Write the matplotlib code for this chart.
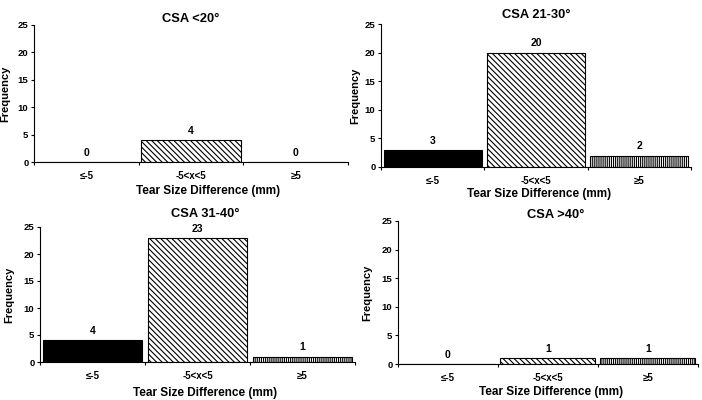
import matplotlib
matplotlib.use('Agg')
import matplotlib.pyplot as plt

plt.rcParams['font.family'] = ['Liberation Sans', 'DejaVu Sans']
plt.rcParams['font.weight'] = 'bold'
plt.rcParams['hatch.linewidth'] = 0.8

categories = ['≤-5', '-5<x<5', '≥5']
titles = ['CSA <20°', 'CSA 21-30°', 'CSA 31-40°', 'CSA >40°']
counts_lt20 = [0, 4, 0]
counts_21_30 = [3, 20, 2]
counts_31_40 = [4, 23, 1]
counts_gt40 = [0, 1, 1]
yticks = [0, 5, 10, 15, 20, 25]

# panel boxes in pixels: left, right, top (y=25), bottom (y=0)
# then x limit, title pad/x, ylabel pad, xlabel coords
panels = [
    (counts_lt20, titles[0], (34, 348, 25, 162), 2.25, 1, 0.5, 5, (0.555, -0.212)),
    (counts_21_30, titles[1], (381, 691, 24, 167), 2.5, 4, 0.5, 3, (0.51, -0.19)),
    (counts_31_40, titles[2], (40, 355, 227, 362), 2.5, 7, 0.525, 7, (0.524, -0.23)),
    (counts_gt40, titles[3], (398, 698, 221, 364), 2.5, 1.5, 0.527, 7, (0.51, -0.196)),
]

W, H = 702, 400
fig = plt.figure(figsize=(W / 100, H / 100), dpi=100)

fills = ['black', 'white', 'white']
hatches = [None, '\\' * 6, '|' * 8]

for counts, title, box, xmax, tpad, tx, ypad, xlab in panels:
    l, r, t, b = box
    ax = fig.add_axes([l / W, 1 - b / H, (r - l) / W, (b - t) / H])
    x = range(len(categories))
    bars = ax.bar(x, counts, width=0.95, color=fills, edgecolor='black',
                  linewidth=0.8)
    for bar, h in zip(bars, hatches):
        if h:
            bar.set_hatch(h)
    for xi, c in zip(x, counts):
        ax.annotate(str(c), (xi, c), xytext=(0, 3), textcoords='offset points',
                    ha='center', va='bottom', fontsize=7.5, fontweight='bold')
    ax.set_xlim(-0.5, xmax)
    ax.set_ylim(0, 25)
    ax.set_yticks(yticks)
    ax.set_xticks(list(x))
    ax.set_xticklabels(categories)
    ax.set_xticks([-0.5, 0.5, 1.5, 2.5], minor=True)
    ax.tick_params(axis='x', which='major', length=0, labelsize=7, pad=6.5)
    ax.tick_params(axis='x', which='minor', length=2.5, direction='out', width=0.8)
    ax.tick_params(axis='y', length=2.5, width=0.8, labelsize=6.8, pad=1.5)
    for lab in ax.get_xticklabels() + ax.get_yticklabels():
        lab.set_fontweight('bold')
    ax.spines['top'].set_visible(False)
    ax.spines['right'].set_visible(False)
    ax.spines['left'].set_linewidth(0.8)
    ax.spines['bottom'].set_linewidth(0.8)
    ax.set_title(title, fontsize=9.3, fontweight='bold', pad=tpad, x=tx)
    ax.set_ylabel('Frequency', fontsize=8, fontweight='bold', labelpad=ypad)
    ax.set_xlabel('Tear Size Difference (mm)', fontsize=8.5, fontweight='bold')
    ax.xaxis.label.set_va('center')
    ax.xaxis.set_label_coords(*xlab)

fig.savefig('out.png', dpi=100)
